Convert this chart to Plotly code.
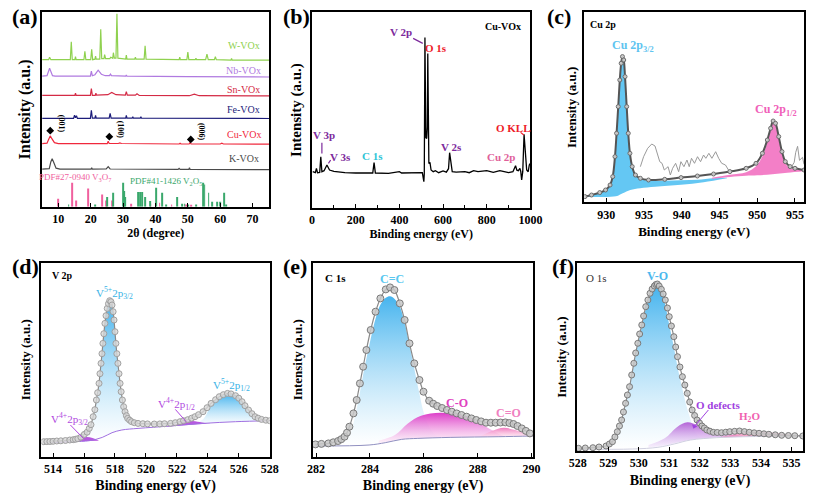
import plotly.graph_objects as go

FIG_W, FIG_H = 817, 499
SERIF = "Liberation Serif"

# ================= DATA =================
# ---- (a) XRD patterns: (2theta, intensity a.u. with stacking offset) ----
xrd_w = [(5,147),(7.0,147),(7.3,149.5),(7.7,147),(13.7,147),(14.0,165),(14.3,147),(15.1,147),(15.3,150),(15.5,147),
         (17.9,147),(18.2,155.5),(18.5,147),(20.0,147),(20.3,157.5),(20.6,147),(21.3,147.5),(21.5,150.5),(21.7,147.5),
         (22.8,147.5),(23.1,177.5),(23.4,148),(24.1,148),(24.3,152),(24.6,148),(25.9,148),(26.2,149.5),(26.5,148.5),
         (26.8,148.5),(27.0,154),(27.3,148.5),(27.8,148.5),(28.1,193),(28.4,148.5),(29.3,148),(29.5,148.5),(29.7,148),
         (30.8,147.5),(31.0,151.5),(31.2,147.5),(33.6,147.5),(33.8,149.5),(34.0,147.5),(36.5,147.5),(36.8,161),(37.1,147.5),
         (47.3,147),(47.5,149.5),(47.7,147),(49.7,147),(50.0,154.5),(50.3,147),(52.3,147),(52.5,148.5),(52.7,147),
         (55.5,147),(55.9,152.5),(56.3,147),(58.2,147),(58.5,150),(58.8,147),(63.3,146.5),(63.5,148.3),(63.7,146.5),
         (71,146.5),(76,146.5)]
xrd_nb = [(5,130.5),(6.5,131),(7.3,138.5),(8.2,131),(9,130.5),(19.9,130.5),(20.2,135.5),(20.5,131),(21.3,132),(22.3,136.5),
          (23.3,132.5),(24.5,131),(25.8,131),(26.1,132.5),(26.4,131),(30.8,130.5),(31.0,131.8),(31.2,130.5),(50,130),(76,129.7)]
xrd_sn = [(5,111.3),(15.1,111.3),(15.3,113.5),(15.5,111.3),(19.9,111.3),(20.2,118),(20.5,111.3),(21.4,111.3),(21.6,113.5),
          (21.8,111.5),(25.3,112),(26.5,114.3),(27.8,112),(30.7,111.5),(31.0,115),(31.3,111.5),(33.8,111.5),(34.3,113),
          (35,111.3),(50.5,111),(52,112.5),(53.5,111),(76,110.8)]
xrd_fe = [(5,88.3),(14.7,88.3),(15.0,91.5),(15.3,89),(15.6,91),(15.9,88.3),(19.9,88.3),(20.2,96.5),(20.5,88.5),(21.3,88.5),
          (21.5,91.3),(21.7,88.5),(25.7,88.5),(26.0,93.3),(26.3,88.5),(30.8,88.5),(31.0,91.3),(31.2,88.5),(32.8,88.5),
          (33.0,90),(33.2,88.5),(35.3,88.5),(35.5,90),(35.7,88.5),(76,88.2)]
xrd_cu = [(5,63),(6.5,63.5),(7.1,68),(7.5,70.8),(8.0,68),(8.8,64),(10,63),(25.1,63),(25.4,65.5),(25.7,63.2),(28.5,63.2),
          (29,63.7),(29.5,63.2),(47.3,62.7),(47.6,63.5),(47.9,62.7),(50.4,62.7),(50.7,64.3),(51,62.7),(60,62.7),
          (60.5,63.5),(61,62.7),(76,62.5)]
xrd_k = [(5,37.5),(7.2,38),(7.7,45),(8.1,48),(8.5,45),(9.3,38.5),(10.5,37.5),(20.1,37.5),(20.3,39),(20.5,37.5),(24.8,37.7),
         (25.4,40),(26,37.7),(47,37.3),(47.3,38.3),(47.6,37.3),(50.3,37.3),(50.5,39),(50.7,37.3),(76,37)]
pdf_v3o7_pos = [10.0,14.2,15.5,19.2,23.6,24.8,26.6,32.6,38.5,41.3,45.0,49.4,50.9]
pdf_v3o7_h = [8,24,6.3,18.3,12.3,6.3,6.3,3,3,4,2.3,2.3,2]
pdf_v2o5_pos = [13.2,21.4,25.0,27.0,30.0,30.3,30.6,34.6,35.3,35.8,36.8,38.3,40.3,42.1,43.3,46.6,48.3,49.0,50.0,52.5,
                54.7,55.2,56.4,57.6,59.1,59.9,61.2,61.9]
pdf_v2o5_h = [2.3,2.3,9.7,14,24,15.7,9.7,14.7,14.7,14.7,9.7,5.7,19,14,2.3,9.7,3,3,2.3,2.3,24,22.3,14,5,5,5,14,2.3]
xrd_names = ["W-VOx","Nb-VOx","Sn-VOx","Fe-VOx","Cu-VOx","K-VOx"]
xrd_label_y = [161,136,117.7,97.7,72.7,48.7]
cu_planes = ["(001)","(100)","(006)"]
cu_plane_pos = [7.5,25.75,50.9]
cu_plane_y = [76,70,67.3]

# ---- (b) survey spectrum (eV, intensity) ----
survey = [(3,36),(10,35.3),(15,35),(20,39.3),(25,35),(35,35.3),(40,51),(45,36),(55,37),(68,42.7),(80,37.7),(100,36.3),
          (150,35),(200,34.7),(250,34.3),(278,34.7),(284,45),(290,34.7),(350,34.3),(400,36),(410,34.7),(450,34.7),
          (505,35),(512,26),(514,34.3),(517,170.3),(519,107.7),(521,70),(525,69.3),(528,81),(530,154.3),(532,74.3),
          (535,44.3),(540,45.3),(545,37.7),(555,36),(565,37),(580,35),(600,36.7),(615,35.5),(625,39),(630,55),
          (635,44.3),(642,36),(660,35.5),(700,36),(720,35),(740,37),(760,36),(800,37),(830,35.3),(860,37),(880,36),
          (900,35),(920,36),(932,42),(938,37.5),(945,37),(952,39.3),(956,36),(960,27.7),(965,36),(971,73.3),
          (977,57.7),(983,37.7),(990,36),(995,42.7),(1000,44.3)]

# ---- (c) Cu 2p ----
cu_env = [(927.2,5.7),(928.06,7.3),(929.15,9.7),(929.92,12.3),(930.52,17.3),(930.87,25.7),(931.17,45.7),(931.38,69),
          (931.6,95.7),(931.81,122.3),(931.99,139),(932.16,145.7),(932.33,142.3),(932.5,125.7),(932.72,95.7),
          (932.93,69),(933.15,49),(933.45,35.7),(933.88,27.3),(934.53,24),(935.61,22.3),(937.76,23),(939.92,24.7),
          (942.08,26.3),(944.22,28.3),(946.38,30.7),(948.54,34),(949.84,39),(950.69,49),(951.34,62.3),(951.78,74),
          (952.11,81.3),(952.42,79),(952.85,65.7),(953.28,50.7),(953.72,40.7),(954.36,35.7),(955.0,34),(956.2,32.3)]
cu_p32 = [(927.2,5.7),(928.06,7.3),(929.15,9.7),(929.92,12.3),(930.52,17.3),(930.87,25.7),(931.17,45.7),(931.38,69),
          (931.6,95.7),(931.81,122.3),(931.99,139),(932.16,145.7),(932.33,142.3),(932.5,125.7),(932.72,95.7),
          (932.93,69),(933.15,49),(933.45,35.7),(933.88,27.3),(934.53,23.5),(935.61,21.5),(937.76,21.5),
          (939.92,22),(942.08,22.5),(944.22,24),(946,24.5)]
cu_p32_bg = [(927.2,5.6),(931.3,6),(932.2,9),(933.2,12.3),(934.5,14),(936.5,15.5),(939.9,17.5),(942.9,20),(946,24)]
cu_p12 = [(944,24.5),(946.38,27.5),(948.54,30),(949.84,36),(950.69,46),(951.34,60),(951.78,72),(952.11,80),
          (952.42,77),(952.85,64),(953.28,49),(953.72,39),(954.36,34),(955,33),(956.2,32.3)]
cu_p12_bg = [(944,23.5),(946.4,25.3),(948.5,26.5),(950,27),(952,28),(954,29.5),(956.2,31)]
cu_sat = [(934.53,35.6),(934.96,45.6),(935.5,54),(936.04,58.3),(936.47,56.3),(936.8,49),(937.1,40.6),(937.4,39),
          (937.7,32.3),(938.2,35.6),(938.5,27.3),(938.8,34),(939.2,39),(939.6,30.6),(939.9,40.6),(940.3,35.6),
          (940.7,42.3),(941.0,35.6),(941.3,44),(941.7,39),(942.1,45.6),(942.5,40.6),(942.9,47.3),(943.2,44),
          (943.6,49),(944.0,44),(944.5,50.6),(944.9,44),(945.3,39),(945.8,37.3),(946.2,32.3)]
cu_sat2 = [(954.5,35),(954.9,40),(955.1,50),(955.35,56),(955.6,42),(956,45),(956.2,38)]

# ---- (d) V 2p ----
v_env = [(513.4,15),(513.6,15.1),(513.8,15.2),(514.0,15.4),(514.24,15.7),(514.5,15.9),(514.8,16.2),(515.08,16.7),
         (515.3,17),(515.45,17.4),(515.6,18),(515.8,19.5),(516.02,22.3),(516.2,24.5),(516.34,28.3),(516.45,32),
         (516.59,40),(516.7,47),(516.8,56.7),(516.88,64),(516.97,73.3),(517.03,83),(517.1,93.3),(517.16,103),
         (517.22,113.3),(517.28,123),(517.35,133.3),(517.42,141),(517.5,148.3),(517.58,153),(517.66,156),
         (517.74,155),(517.81,151.7),(517.88,145),(517.94,136.7),(518.0,125),(518.06,113.3),(518.12,103),
         (518.19,93.3),(518.26,83),(518.33,73.3),(518.4,65),(518.48,56.7),(518.56,50),(518.65,45),(518.74,41),
         (518.82,38.3),(518.95,36.5),(519.07,35),(519.25,34),(519.49,33.3),(519.8,33),(520.1,32.8),(520.54,32.7),
         (520.9,32.8),(521.2,33),(521.59,33.3),(521.9,34),(522.2,35),(522.43,36),(522.7,37),(522.95,38.5),
         (523.17,40),(523.4,42),(523.69,45),(523.95,49),(524.21,53.3),(524.5,57),(524.74,60),(525.0,62),
         (525.27,63.3),(525.5,62.8),(525.79,61),(526.0,58.5),(526.21,55),(526.4,51),(526.63,46.7),(526.85,43),
         (527.05,40),(527.25,38.5),(527.47,37.3),(527.75,36.5),(528.0,36)]
v_bg = [(513.4,14),(515.3,15),(516.34,16),(517.18,19.3),(517.81,24),(518.44,26.7),(519.49,28.3),(521.59,30.7),
        (523.69,33.3),(525.79,35),(528,36)]
v5_p32 = [(515.6,16.5),(516.02,20),(516.34,26),(516.59,38),(516.8,55),(516.97,72),(517.1,92),(517.22,112),(517.35,132),
          (517.5,147),(517.66,155),(517.81,150.5),(517.94,136),(518.06,112.5),(518.19,92.5),(518.33,72.5),
          (518.48,55.5),(518.65,43),(518.82,35),(519.07,30),(519.49,28.5),(520.5,29.5)]
v5_p32_bg = [(515.6,15.5),(516.34,16),(517.18,19.3),(517.81,24),(518.44,26.7),(519.49,28.3),(520.5,29.5)]
v5_p12 = [(522.4,31),(523.17,34),(523.69,37.5),(524.21,51),(524.74,58.5),(525.27,62.5),(525.79,60),(526.21,54),
          (526.63,46),(527.05,39.5),(527.47,37),(528,36)]
v5_p12_bg = [(522.4,31),(523.69,33.3),(525.79,35),(528,36)]
v4_p32 = [(515.39,15.3),(515.7,17.3),(516.13,19.7),(516.55,18.7),(516.97,16)]
v4_p32_bg = [(515.39,15.3),(516.13,15.8),(516.97,16)]
v4_p12 = [(521.17,30),(522.01,32.7),(522.74,35.7),(523.48,34.7),(524.1,32.7)]
v4_p12_bg = [(521.17,30),(522.74,31.8),(524.1,33.3)]

# ---- (e) C 1s ----
c_env = [(281.98,12.3),(282.2,12.8),(282.46,13.3),(282.64,14.4),(282.82,15.7),(282.94,17.5),(283.06,20),(283.15,24),
         (283.24,30),(283.39,43.3),(283.51,56.7),(283.63,73.3),(283.75,90),(283.87,106.7),(284.03,126.7),(284.21,145),
         (284.39,158.3),(284.59,167.3),(284.75,169.3),(284.91,166.7),(285.11,153.3),(285.29,136.7),(285.47,113.3),
         (285.65,93.3),(285.84,76.7),(285.99,65),(286.2,56),(286.35,53),(286.5,50.7),(286.68,48.7),(286.86,46.7),
         (287.04,45),(287.22,43.3),(287.4,41.7),(287.59,40),(287.77,38.3),(287.95,36.7),(288.13,35.3),(288.31,34),
         (288.49,34),(288.67,34),(288.85,34.2),(289.03,34.3),(289.18,33.7),(289.33,32.7),(289.48,30.7),(289.64,28.3),
         (289.79,25.8),(289.94,23.3)]
c_bg = [(281.98,10.7),(283.97,11.7),(284.57,14),(285.17,17.3),(285.78,18.3),(286.98,19.3),(288.79,20),(290.06,20.7)]
c_cc = [(283.0,16),(283.24,22),(283.51,48),(283.75,82),(284.03,118),(284.21,138),(284.39,152),(284.59,159),
        (284.75,160.5),(284.91,158),(285.11,150),(285.29,134),(285.47,112),(285.65,88),(285.84,63),(285.99,45),
        (286.2,30),(286.5,20),(286.9,19.3)]
c_cc_bg = [(283.0,11.5),(284.57,14),(285.17,17.3),(285.78,18.3),(286.9,19.3)]
c_co = [(284.33,16),(284.93,21.7),(285.41,33.3),(285.9,41),(286.62,44),(287.34,41.7),(287.83,36.7),(288.31,30),
        (288.79,22.7),(289.03,20)]
c_co_bg = [(284.33,13),(285.17,17.3),(285.78,18.3),(286.98,19.3),(288.79,20),(289.03,20)]
c_cdo = [(288.07,20),(288.55,26),(288.97,29),(289.39,26.7),(289.88,22.7),(290.06,21.7)]
c_cdo_bg = [(288.07,19.8),(289.03,20.1),(290.06,20.7)]

# ---- (f) O 1s ----
o_env = [(528.03,2.7),(528.25,3),(528.5,3.3),(528.7,4),(528.93,5),(529.04,7),(529.14,9.3),(529.22,14),(529.3,19.3),
         (529.37,25),(529.44,31),(529.5,39),(529.57,47.7),(529.63,56),(529.7,64.3),(529.77,76),(529.84,87.7),
         (529.9,98),(529.97,107.7),(530.03,117),(530.1,126),(530.16,135),(530.23,144.3),(530.3,151),(530.37,157.7),
         (530.44,162),(530.51,165),(530.56,166.5),(530.61,167),(530.67,165),(530.74,161.7),(530.8,157),(530.87,151),
         (530.94,143),(531.0,134.3),(531.07,125),(531.15,114.3),(531.21,104),(531.27,94.3),(531.35,84),(531.43,74.3),
         (531.51,66),(531.59,57.7),(531.67,49),(531.75,41),(531.83,35.5),(531.91,31),(531.99,28),(532.07,25),
         (532.15,23),(532.23,21),(532.33,19.8),(532.44,18.7),(532.57,18.5),(532.71,18.3),(532.85,18.8),(532.98,19.3),
         (533.14,19.7),(533.3,20),(533.46,19.4),(533.62,18.7),(533.78,18.2),(533.94,17.7),(534.1,17.2),(534.26,16.7),
         (534.47,16.2),(534.68,15.7),(534.9,15.5),(535.11,15.3),(535.37,15)]
o_bg = [(528.03,1.7),(529.8,2),(530.63,3.7),(531.16,7),(531.7,11),(532.55,13.3),(533.51,14.3),(535.37,15)]
o_vo = [(528.5,2),(528.93,4.5),(529.14,8.5),(529.3,18),(529.44,30),(529.57,46),(529.7,63),(529.84,86),(529.97,106),
        (530.1,124),(530.23,142),(530.37,155),(530.51,162.5),(530.61,164.5),(530.74,159),(530.87,146),(531.0,126),
        (531.15,104),(531.27,84),(531.43,62),(531.59,42),(531.75,27),(531.91,16),(532.1,12.5),(532.3,12.5)]
o_vo_bg = [(528.5,1.8),(529.8,2),(530.63,3.7),(531.16,7),(531.7,11),(532.3,12.5)]
o_def = [(530.32,6),(530.85,12.7),(531.27,24.3),(531.59,28.7),(531.91,26),(532.34,21),(532.87,17.7),(533.4,14.3)]
o_def_bg = [(530.32,3.3),(530.85,5.5),(531.27,8.5),(531.59,10.5),(531.91,12),(532.34,13),(532.87,13.8),(533.4,14.3)]
o_h2o = [(532.6,13.5),(533.0,16),(533.4,18.5),(533.83,19.5),(534.3,18.5),(534.8,16.8),(535.37,15)]
o_h2o_bg = [(532.6,13.6),(533.51,14.3),(535.37,15)]

# ================= FIGURE =================
def xs(p): return [t[0] for t in p]
def ys(p): return [t[1] for t in p]

fig = go.Figure()

# panel geometry (pixels): x-left, x-right, y-top, y-bottom
PANELS = {
    1: dict(px=(35, 268), py=(12.3, 206.7), xr=[5, 75.2], yr=[0, 194.4], tv=list(range(10, 71, 10)),
            xt="2θ (degree)", xtf=12, ytf=16, ysd=6, xsd=0),
    2: dict(px=(311.7, 535.5), py=(12.3, 207.7), xr=[0, 1000], yr=[0, 195.4], tv=list(range(0, 1001, 200)),
            xt="Binding energy (eV)", xtf=12, ytf=15, ysd=5, xsd=3),
    3: dict(px=(590.7, 816), py=(12.3, 202.3), xr=[927.1, 956.2], yr=[0, 190], tv=list(range(930, 956, 5)),
            xt="Binding energy (eV)", xtf=13, ytf=13, ysd=3, xsd=6),
    4: dict(px=(34.3, 268.3), py=(262.7, 456.7), xr=[513.25, 528.0], yr=[0, 194], tv=list(range(514, 529, 2)),
            xt="Binding energy (eV)", xtf=14, ytf=13, ysd=6, xsd=5),
    5: dict(px=(312.7, 538.3), py=(262.7, 456.7), xr=[281.89, 290.06], yr=[0, 194], tv=list(range(282, 291, 2)),
            xt="Binding energy (eV)", xtf=14, ytf=13, ysd=5, xsd=5),
    6: dict(px=(583.3, 815), py=(263.3, 451), xr=[527.98, 535.38], yr=[0, 187.7], tv=list(range(528, 536)),
            xt="Binding energy (eV)", xtf=14, ytf=13, ysd=5, xsd=6),
}

layout = dict(width=FIG_W, height=FIG_H, margin=dict(l=0, r=0, t=0, b=0), paper_bgcolor="white",
              plot_bgcolor="white", showlegend=False, barmode="overlay",
              font=dict(family=SERIF, color="black", size=12))
for i, p in PANELS.items():
    sfx = "" if i == 1 else str(i)
    xa = dict(domain=[p["px"][0] / FIG_W, p["px"][1] / FIG_W], range=p["xr"], anchor="y" + sfx,
              showline=True, mirror=True, linecolor="black", linewidth=2, ticks="inside", ticklen=4,
              tickwidth=1.3, tickcolor="black", tickvals=p["tv"], ticktext=["<b>%s</b>" % v for v in p["tv"]],
              showgrid=False, zeroline=False,
              tickfont=dict(family=SERIF, size=12, color="black"),
              title=dict(text="<b>%s</b>" % p["xt"], font=dict(family=SERIF, size=p["xtf"], color="black"),
                         standoff=p["xsd"]))
    if i == 2:
        xa["minor"] = dict(ticks="inside", ticklen=2.5, dtick=100, tickcolor="black", tickwidth=1)
    ya = dict(domain=[1 - p["py"][1] / FIG_H, 1 - p["py"][0] / FIG_H], range=p["yr"], anchor="x" + sfx,
              showline=True, mirror=True, linecolor="black", linewidth=2, ticks="", showticklabels=False,
              showgrid=False, zeroline=False,
              title=dict(text="<b>Intensity (a.u.)</b>", font=dict(family=SERIF, size=p["ytf"], color="black"),
                         standoff=p["ysd"]))
    layout["xaxis" + sfx] = xa
    layout["yaxis" + sfx] = ya

ann = []
shapes = []

def label(text, x, y, ax_i, color, size, bold=True, xanchor="center", angle=0):
    sfx = "" if ax_i == 1 else str(ax_i)
    ann.append(dict(text="<b>%s</b>" % text if bold else text, x=x, y=y, xref="x" + sfx, yref="y" + sfx,
                    showarrow=False, xanchor=xanchor, yanchor="middle", textangle=angle,
                    font=dict(family=SERIF, size=size, color=color)))

def line(x0, y0, x1, y1, ax_i, color, width=1.2):
    sfx = "" if ax_i == 1 else str(ax_i)
    shapes.append(dict(type="line", x0=x0, y0=y0, x1=x1, y1=y1, xref="x" + sfx, yref="y" + sfx,
                       line=dict(color=color, width=width)))

# ---------- (a) ----------
xrd_sets = [xrd_w, xrd_nb, xrd_sn, xrd_fe, xrd_cu, xrd_k]
xrd_colors = ["#8fd14f", "#b07ae0", "#d42a45", "#1c1c7a", "#f0283c", "#4a4a4a"]
for data, col, name, ly in zip(xrd_sets, xrd_colors, xrd_names, xrd_label_y):
    fig.add_trace(go.Scatter(x=xs(data), y=ys(data), mode="lines", line=dict(color=col, width=1.2),
                             name=name, xaxis="x", yaxis="y"))
    label(name, 67.3, ly, 1, col, 10, bold=False)
fig.add_trace(go.Bar(x=pdf_v3o7_pos, y=pdf_v3o7_h, width=0.25, marker=dict(color="#f0609e", line=dict(width=0)),
                     xaxis="x", yaxis="y", name="PDF#27-0940"))
fig.add_trace(go.Bar(x=pdf_v2o5_pos, y=pdf_v2o5_h, width=0.25, marker=dict(color="#3aa86c", line=dict(width=0)),
                     xaxis="x", yaxis="y", name="PDF#41-1426"))
label("PDF#27-0940 V<sub>3</sub>O<sub>7</sub>", 15.2, 29.5, 1, "#f0609e", 9, bold=False)
label("PDF#41-1426 V<sub>2</sub>O<sub>5</sub>", 43.3, 25.0, 1, "#3aa86c", 9, bold=False)
fig.add_trace(go.Scatter(x=cu_plane_pos, y=cu_plane_y, mode="markers",
                         marker=dict(symbol="diamond", size=6, color="black"), xaxis="x", yaxis="y"))
for t, xp, yp in zip(cu_planes, cu_plane_pos, cu_plane_y):
    label(t, xp + 3.3, yp + 7, 1, "black", 8, bold=True, angle=90)

# ---------- (b) ----------
fig.add_trace(go.Scatter(x=xs(survey), y=ys(survey), mode="lines", line=dict(color="black", width=1.3),
                         xaxis="x2", yaxis="y2"))
PURPLE_B = "#7d2a9c"
label("Cu-VOx", 873, 181, 2, "black", 10)
label("V 2p", 408, 176, 2, PURPLE_B, 11)
line(463, 169.3, 507, 164.3, 2, PURPLE_B)
label("O 1s", 566, 159.3, 2, "#ee1c2a", 11)
label("V 3p", 55, 72.7, 2, PURPLE_B, 11)
line(45, 65, 45, 54.3, 2, PURPLE_B)
label("V 3s", 130, 51, 2, PURPLE_B, 11)
line(85, 47.7, 75, 44.3, 2, PURPLE_B)
label("C 1s", 279, 51.7, 2, "#2ec4d6", 11)
label("V 2s", 637, 61, 2, PURPLE_B, 11)
label("Cu 2p", 866, 51, 2, "#e0609a", 11)
label("O KLL", 922, 79.3, 2, "#ee1c2a", 11)
line(955, 75.3, 970, 72.7, 2, "#ee1c2a")

# ---------- (c) ----------
def fill_pair(comp, bg, ax_i, fillcolor=None, grad=None):
    sfx = "" if ax_i == 1 else str(ax_i)
    fig.add_trace(go.Scatter(x=xs(bg), y=ys(bg), mode="lines", line=dict(width=0, shape="spline"),
                             xaxis="x" + sfx, yaxis="y" + sfx, hoverinfo="skip"))
    kw = dict(fill="tonexty")
    if grad:
        kw["fillgradient"] = dict(type="vertical", colorscale=grad)
    else:
        kw["fillcolor"] = fillcolor
    fig.add_trace(go.Scatter(x=xs(comp), y=ys(comp), mode="lines", line=dict(width=0, shape="spline"),
                             xaxis="x" + sfx, yaxis="y" + sfx, **kw))

fill_pair(cu_p32, cu_p32_bg, 3, fillcolor="rgba(92,196,242,0.95)")
fill_pair(cu_p12, cu_p12_bg, 3, fillcolor="rgba(242,120,196,0.95)")
fig.add_trace(go.Scatter(x=xs(cu_sat), y=ys(cu_sat), mode="lines", line=dict(color="#9a9a9a", width=1),
                         xaxis="x3", yaxis="y3"))
fig.add_trace(go.Scatter(x=xs(cu_sat2), y=ys(cu_sat2), mode="lines", line=dict(color="#9a9a9a", width=1),
                         xaxis="x3", yaxis="y3"))
fig.add_trace(go.Scatter(x=xs(cu_env), y=ys(cu_env), mode="lines+markers",
                         line=dict(color="#555555", width=2, shape="spline"),
                         marker=dict(size=4, color="rgba(210,210,210,0.9)", line=dict(color="#6a6a6a", width=1)),
                         xaxis="x3", yaxis="y3"))
label("Cu 2p", 927.6, 178, 3, "black", 10, xanchor="left")
label("Cu 2p<sub>3/2</sub>", 933.6, 156, 3, "#5ec4f0", 12)
label("Cu 2p<sub>1/2</sub>", 952.5, 92.5, 3, "#f060b8", 12)

# ---------- (d) ----------
BLUE_GRAD = [[0, "rgba(255,255,255,0.6)"], [1, "rgba(70,180,238,1)"]]
fill_pair(v5_p32, v5_p32_bg, 4, grad=BLUE_GRAD)
fill_pair(v5_p12, v5_p12_bg, 4, grad=BLUE_GRAD)
fill_pair(v4_p32, v4_p32_bg, 4, fillcolor="rgba(176,70,220,0.9)")
fill_pair(v4_p12, v4_p12_bg, 4, fillcolor="rgba(176,70,220,0.9)")
fig.add_trace(go.Scatter(x=xs(v_bg), y=ys(v_bg), mode="lines", line=dict(color="#a070e0", width=1, shape="spline"),
                         xaxis="x4", yaxis="y4"))
fig.add_trace(go.Scatter(x=xs(v_env), y=ys(v_env), mode="lines+markers",
                         line=dict(color="#8a8a8a", width=1.2, shape="spline"),
                         marker=dict(size=6, color="rgba(215,215,215,0.8)", line=dict(color="#a0a0a0", width=1)),
                         xaxis="x4", yaxis="y4"))
label("V 2p", 513.8, 181.7, 4, "black", 10, xanchor="left")
label("V<sup>5+</sup>2p<sub>3/2</sub>", 517.96, 164, 4, "#38b2e6", 11, bold=False)
label("V<sup>4+</sup>2p<sub>3/2</sub>", 515.04, 37.3, 4, "#b048e0", 11, bold=False)
line(515.12, 31.7, 515.96, 18.3, 4, "#b048e0", 1)
label("V<sup>4+</sup>2p<sub>1/2</sub>", 521.97, 52.7, 4, "#b048e0", 11, bold=False)
line(521.9, 47.3, 522.6, 35, 4, "#b048e0", 1)
label("V<sup>5+</sup>2p<sub>1/2</sub>", 525.54, 71.7, 4, "#38b2e6", 11, bold=False)

# ---------- (e) ----------
fill_pair(c_cc, c_cc_bg, 5, grad=BLUE_GRAD)
fill_pair(c_co, c_co_bg, 5, grad=[[0, "rgba(255,230,245,0.5)"], [1, "rgba(220,60,200,1)"]])
fill_pair(c_cdo, c_cdo_bg, 5, grad=[[0, "rgba(255,220,235,0.6)"], [1, "rgba(240,120,190,1)"]])
fig.add_trace(go.Scatter(x=xs(c_bg), y=ys(c_bg), mode="lines", line=dict(color="#9090c0", width=1, shape="spline"),
                         xaxis="x5", yaxis="y5"))
fig.add_trace(go.Scatter(x=xs(c_env), y=ys(c_env), mode="lines+markers",
                         line=dict(color="#8a8a8a", width=1.2, shape="spline"),
                         marker=dict(size=7, color="rgba(200,200,200,0.85)", line=dict(color="#7a7a7a", width=1)),
                         xaxis="x5", yaxis="y5"))
label("C 1s", 282.72, 178.3, 5, "black", 11)
label("C=C", 284.81, 177.3, 5, "#5ac8f0", 12)
label("C-O", 287.25, 54, 5, "#e040c0", 12)
label("C=O", 289.15, 43.3, 5, "#f080c0", 12)

# ---------- (f) ----------
fill_pair(o_vo, o_vo_bg, 6, grad=BLUE_GRAD)
fill_pair(o_def, o_def_bg, 6, grad=[[0, "rgba(240,225,250,0.5)"], [1, "rgba(180,100,215,1)"]])
fill_pair(o_h2o, o_h2o_bg, 6, fillcolor="rgba(240,130,180,0.7)")
fig.add_trace(go.Scatter(x=xs(o_bg), y=ys(o_bg), mode="lines", line=dict(color="#d0d0e0", width=1, shape="spline"),
                         xaxis="x6", yaxis="y6"))
fig.add_trace(go.Scatter(x=xs(o_env), y=ys(o_env), mode="lines+markers",
                         line=dict(color="#8a8a8a", width=1.2, shape="spline"),
                         marker=dict(size=6, color="rgba(200,200,200,0.85)", line=dict(color="#7a7a7a", width=1)),
                         xaxis="x6", yaxis="y6"))
label("O 1s", 528.61, 172.7, 6, "#333333", 11, bold=False)
label("V-O", 530.61, 175, 6, "#4cb8ee", 12)
label("O defects", 532.6, 46, 6, "#a040e0", 11)
shapes.append(dict(type="line", x0=532.28, y0=41, x1=531.85, y1=25.5, xref="x6", yref="y6",
                   line=dict(color="#a040e0", width=1)))
fig.add_trace(go.Scatter(x=[531.82], y=[24.5], mode="markers", xaxis="x6", yaxis="y6",
                         marker=dict(symbol="triangle-down", size=5, color="#a040e0", angle=20)))
label("H<sub>2</sub>O", 533.62, 34.3, 6, "#f060b0", 11)

# ---------- panel letters ----------
for t, lx, ty in [("(a)", 2, 2), ("(b)", 280, 2), ("(c)", 550, 2), ("(d)", 2, 252), ("(e)", 280, 252), ("(f)", 556, 252)]:
    ann.append(dict(text="<b>%s</b>" % t, x=lx / FIG_W, y=1 - ty / FIG_H, xref="paper", yref="paper",
                    xanchor="left", yanchor="top", showarrow=False,
                    font=dict(family=SERIF, size=22, color="black")))

layout["annotations"] = ann
layout["shapes"] = shapes
fig.update_layout(**layout)
fig.write_html("out.html")
